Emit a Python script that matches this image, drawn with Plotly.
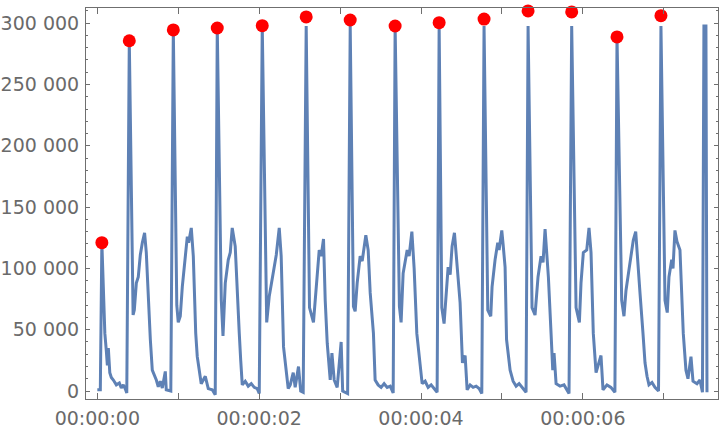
import plotly.graph_objects as go

# time in milliseconds, signal values
time_ms = [
    0, 37, 56, 78, 93, 111, 124, 136, 154, 173, 198, 235, 272, 296, 321, 346, 364,
    395,
    442, 457, 482, 506, 531, 556, 584, 605, 634, 655, 679, 704, 729, 753, 778, 803, 840, 852, 908,
    939,
    982, 1000, 1025, 1050, 1087, 1112, 1128, 1161, 1186, 1198, 1216, 1235, 1260, 1284, 1309, 1334, 1371, 1420, 1457,
    1482,
    1532, 1553, 1581, 1618, 1643, 1667, 1704, 1723, 1754, 1772, 1791, 1828, 1865, 1902, 1939, 1976, 2001,
    2038,
    2093, 2124, 2161, 2211, 2248, 2272, 2301, 2322, 2359, 2384, 2421, 2445, 2486, 2513, 2544,
    2581,
    2622, 2671, 2705, 2742, 2766, 2795, 2816, 2841, 2878, 2899, 2927, 2964, 3013, 3032, 3093,
    3125,
    3165, 3186, 3211, 3248, 3273, 3318, 3347, 3372, 3412, 3433, 3470, 3507, 3544, 3582, 3619, 3656,
    3680,
    3733, 3754, 3779, 3829, 3853, 3887, 3915, 3948, 3989, 4014, 4051, 4088, 4125, 4162, 4199,
    4224,
    4257, 4285, 4335, 4360, 4384, 4413, 4446, 4483, 4512, 4545, 4570, 4607, 4644, 4681, 4718, 4751,
    4779,
    4825, 4862, 4878, 4915, 4948, 4965, 4998, 5014, 5039, 5057, 5101, 5138, 5175, 5212, 5249, 5298,
    5323,
    5372, 5409, 5446, 5483, 5508, 5533, 5574, 5607, 5628, 5644, 5669, 5718, 5767, 5829,
    5862,
    5916, 5957, 5977, 6006, 6048, 6076, 6101, 6129, 6163, 6224, 6249, 6298, 6347, 6396,
    6422,
    6480, 6508, 6533, 6570, 6623, 6653, 6681, 6706, 6743, 6768, 6793, 6817, 6854, 6891, 6935,
    6965,
    7015, 7043, 7064, 7098, 7114, 7138, 7163, 7200, 7241, 7274, 7299, 7336, 7361, 7410, 7447, 7478,
    7496, 7521, 7534,
]

signal = [
    1000, 1000, 121000, 74000, 47000, 33000, 21000, 35000, 15000, 11000, 9000, 5000, 6500, 2500, 5000, 1600, -1500,
    285700,
    62000, 66000, 88000, 93000, 111000, 121000, 129000, 113000, 69000, 42000, 17000, 13000, 9000, 3500, 8000, 2500, 16000, 1000, 0,
    294500,
    70000, 56000, 61000, 85000, 110000, 126000, 121000, 133000, 110000, 85000, 47000, 28000, 17000, 6000, 9000, 12000, 2000, 1000, -3000,
    296100,
    74000, 45000, 88000, 107000, 113000, 133000, 118000, 85000, 47000, 25000, 5000, 8000, 4000, 6000, 3000, 2000, -2000,
    297700,
    56000, 77000, 93000, 111000, 133000, 110000, 36000, 25000, 2000, 5000, 15000, 3000, 20000, 0, -1000,
    297700,
    68000, 56000, 88000, 115000, 110000, 124000, 74000, 39000, 9000, 31000, 9000, 3000, 40000, 0, -2000,
    297700,
    69000, 65000, 88000, 110000, 106000, 127000, 115000, 80000, 47000, 9000, 5000, 3000, 6000, 3000, 4000, -1500,
    297700,
    69000, 56000, 96000, 115000, 110000, 130000, 100000, 47000, 23000, 6000, 8000, 3000, 5000, 2000, -1000,
    297700,
    68000, 55000, 101000, 95000, 118000, 129000, 100000, 72000, 23000, 29000, 1000, 5000, 3000, 4000, 2000, -2000,
    297700,
    66000, 61000, 85000, 107000, 121000, 115000, 131000, 120000, 101000, 42000, 17000, 8000, 4000, 6000, 3000, -1000,
    297700,
    68000, 62000, 93000, 110000, 105000, 132000, 93000, 47000, 17000, 31000, 6000, 4000, 5000, -2000,
    297700,
    68000, 56000, 88000, 113000, 115000, 133000, 113000, 47000, 15000, 29000, 1000, 5000, 3000, -1000,
    288800,
    74000, 61000, 82000, 99000, 123000, 130000, 101000, 80000, 47000, 23000, 12000, 5000, 7000, 3000, 0,
    297700,
    74000, 64000, 93000, 107000, 100000, 131000, 122000, 115000, 47000, 17000, 10000, 28000, 8000, 6000, 9000, -1000,
    297700, 297700, -1000,
]

peak_ms = [56, 395, 939, 1482, 2038, 2581, 3125, 3680, 4224, 4779, 5323, 5862, 6422, 6965]
peak_values = [121000, 285700, 294500, 296100, 298000, 305100, 302600, 297700,
               300400, 303400, 310000, 309200, 288800, 306100]

x_tickvals = [0, 2000, 4000, 6000]
x_ticktext = ["00:00:00", "00:00:02", "00:00:04", "00:00:06"]
y_tickvals = [0, 50000, 100000, 150000, 200000, 250000, 300000]
y_ticktext = ["0", "50 000", "100 000", "150 000", "200 000", "250 000", "300 000"]

line_color = "#5E81B5"
frame_color = "#6f6f6f"
font = dict(family="DejaVu Sans", size=19, color="#6a6a6a")

fig = go.Figure()
fig.add_trace(go.Scatter(
    x=time_ms, y=signal, mode="lines",
    line=dict(color=line_color, width=3),
    hoverinfo="skip",
))
fig.add_trace(go.Scatter(
    x=peak_ms, y=peak_values, mode="markers",
    marker=dict(color="#FF0000", size=13, line=dict(width=0)),
    cliponaxis=False,
))

fig.update_layout(
    width=720, height=430,
    margin=dict(l=86, r=2, t=8, b=31),
    paper_bgcolor="white", plot_bgcolor="white",
    showlegend=False,
    font=font,
)
fig.update_xaxes(
    range=[-140, 7670],
    automargin=False,
    tickmode="array", tickvals=x_tickvals, ticktext=x_ticktext,
    ticks="inside", ticklen=6, tickwidth=1, tickcolor=frame_color,
    ticklabelstandoff=2,
    minor=dict(tickmode="linear", tick0=0, dtick=1000, ticks="inside", ticklen=6,
               tickwidth=1, tickcolor=frame_color, showgrid=False),
    showline=True, linecolor=frame_color, linewidth=1, mirror="allticks",
    showgrid=False, zeroline=False,
    tickfont=font,
)
fig.update_yaxes(
    range=[-6500, 312400],
    automargin=False,
    tickmode="array", tickvals=y_tickvals, ticktext=y_ticktext,
    ticks="inside", ticklen=4, tickwidth=1, tickcolor=frame_color,
    ticklabelstandoff=2,
    minor=dict(tickmode="linear", tick0=0, dtick=10000, ticks="inside", ticklen=2,
               tickwidth=1, tickcolor=frame_color, showgrid=False),
    showline=True, linecolor=frame_color, linewidth=1, mirror="allticks",
    showgrid=False, zeroline=False,
    tickfont=font,
)

fig.write_html(
    "out.html",
    config={"displayModeBar": False},
    post_script="document.body.style.margin='0';document.body.style.overflow='hidden';",
)
